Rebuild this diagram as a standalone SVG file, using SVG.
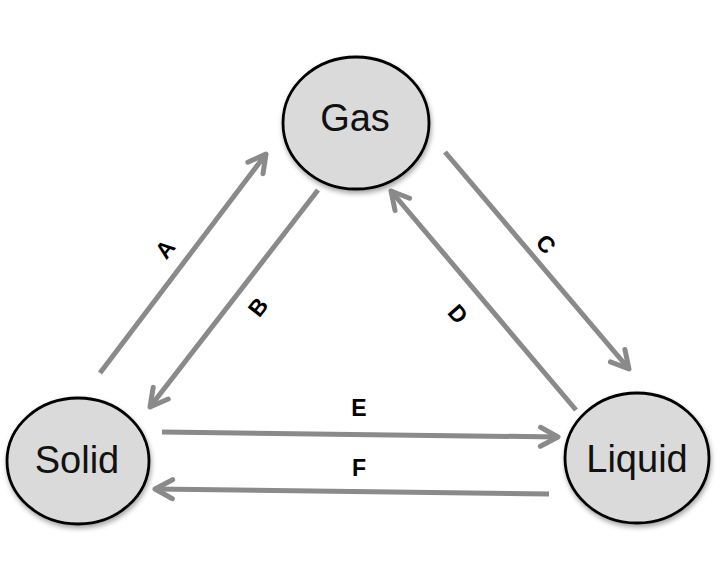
<svg xmlns="http://www.w3.org/2000/svg" width="728" height="588" viewBox="0 0 728 588">
<defs>
<filter id="sh" x="-20%" y="-20%" width="140%" height="150%">
<feDropShadow dx="1" dy="3" stdDeviation="2.5" flood-color="#000" flood-opacity="0.35"/>
</filter>
<marker id="ah" markerUnits="userSpaceOnUse" markerWidth="40" markerHeight="40" viewBox="-30 -20 40 40" refX="0" refY="0" orient="auto">
<path d="M -17.5,-9.5 L 0,0 L -17.5,9.5" fill="none" stroke="#8a8a8a" stroke-width="5" stroke-linecap="round" stroke-linejoin="round"/>
</marker>
</defs>
<style>
.node ellipse { fill: #dadada; stroke: #000; stroke-width: 2.8; filter: url(#sh); }
.node text { font-family: "Liberation Sans", Arial, sans-serif; font-size: 38px; fill: #111; text-anchor: middle; }
.conn line { stroke: #8a8a8a; stroke-width: 5; stroke-linecap: butt; marker-end: url(#ah); }
.lbl { font-family: "Liberation Sans", Arial, sans-serif; font-weight: bold; font-size: 23px; fill: #000; text-anchor: middle; }
</style>
<rect width="728" height="588" fill="#fff"/>
<g id="connectors" class="conn">
<line x1="100" y1="373" x2="266" y2="154"/>
<line x1="318" y1="190" x2="150" y2="407"/>
<line x1="445" y1="152" x2="629" y2="369"/>
<line x1="576" y1="410" x2="391" y2="191"/>
<line x1="162" y1="432" x2="558" y2="437"/>
<line x1="549" y1="494" x2="155" y2="489"/>
</g>
<g id="labels">
<text class="lbl" transform="translate(165,249) rotate(-52)" y="8">A</text>
<text class="lbl" transform="translate(258,307) rotate(-52)" y="8">B</text>
<text class="lbl" transform="translate(546,244) rotate(49)" y="8">C</text>
<text class="lbl" transform="translate(458,314) rotate(49)" y="8">D</text>
<text class="lbl" x="359" y="416">E</text>
<text class="lbl" x="359" y="476">F</text>
</g>
<g id="gas" class="node">
<ellipse cx="356" cy="123" rx="73" ry="66"/>
<text x="355" y="131">Gas</text>
</g>
<g id="solid" class="node">
<ellipse cx="78" cy="461" rx="71" ry="63"/>
<text x="77" y="473">Solid</text>
</g>
<g id="liquid" class="node">
<ellipse cx="637" cy="458" rx="72" ry="65"/>
<text x="637" y="472">Liquid</text>
</g>
</svg>
